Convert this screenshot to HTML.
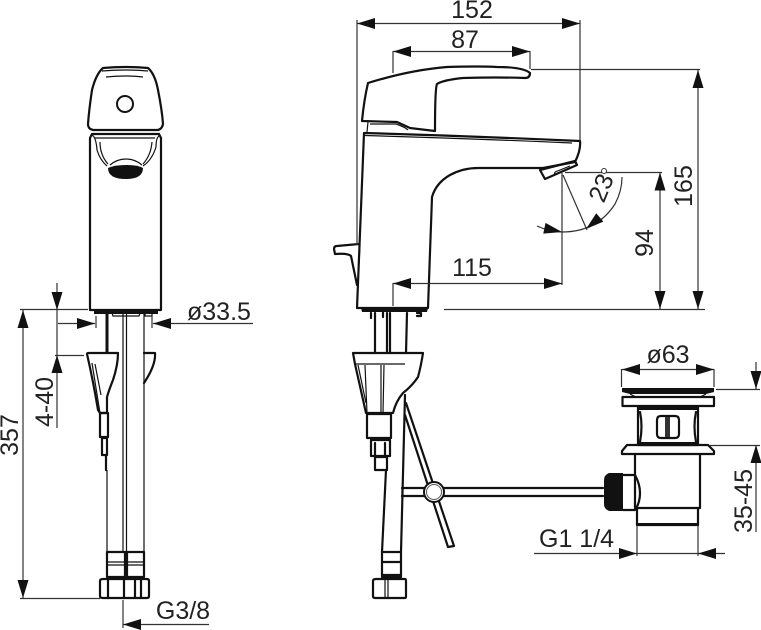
<!DOCTYPE html>
<html><head><meta charset="utf-8"><style>
html,body{margin:0;padding:0;background:#fff}
svg{display:block}
text{font-family:"Liberation Sans",sans-serif;font-size:25px;fill:#222}
.d{stroke:#333;stroke-width:1.2;fill:none}
.o{stroke:#111;stroke-width:2.2;fill:none;stroke-linejoin:round;stroke-linecap:round}
.t{stroke:#111;stroke-width:1.2;fill:none}
.w{fill:#fff}
</style></head><body>
<svg width="761" height="630" viewBox="0 0 761 630" xmlns="http://www.w3.org/2000/svg">
<defs><path id="a" d="M0 0L-18 -5.5V5.5Z" fill="#111"/></defs>

<!-- LEFT VIEW -->
<path class="o" d="M103 68Q125 66 148 68Q155 74 158 90Q162 110 163 124Q162 129 158 130H93Q88 129 88 124Q89 110 92 90Q96 74 103 68Z"/>
<path class="t" d="M102 71Q125 69 148 71M106 77Q125 75 143 77"/>
<circle cx="125" cy="104" r="8" fill="none" stroke="#111" stroke-width="2"/>
<path class="o" d="M90 310V138L92 134H159L161 138V310Z"/>
<path class="t" d="M92 135Q96 137 97 150Q100 160 107 166M95 138H155M160 135Q156 137 156 147Q152 160 143 166M100 142Q100 155 108 164M152 142Q151 155 143 164"/>
<path d="M108 168Q114 165 126 165Q138 165 143 168Q143 179 126 179Q108 179 108 168Z" fill="#111"/>
<path class="t" d="M110 165Q117 159 126 159Q135 159 142 165"/>
<path d="M94 310H158V314H94Z" fill="#111"/>
<path class="t" d="M112 313L113 316H139L140 313M145 313V316H152V313"/>
<path d="M105.500 314H108.500V352H105.500Z" fill="#111"/>
<path class="t" d="M123 314V552M126.500 314V552M144 314V552M107 470V552"/>
<path class="o" d="M87 354Q87 353 89 353H118Q118 365 113 380Q109 390 107 397V413H100L98 410Q93 380 87 354Z"/>
<path class="t" d="M92 363L100 413M95 364L101 395"/>
<path class="o" d="M100 413H108V437H100ZM102 438H107V455H102ZM106 455V470"/>
<path class="o" d="M144 353H155Q156 365 144 383"/>
<path class="o" d="M107 552H144M107 577H144M107 552V577M125 552V577M127 552V577M144 552V577" stroke-width="1.500"/>
<path class="t" d="M107 562H144M107 565H144"/>
<path class="o" d="M103 579H147Q149 579 149 581V596Q149 598 147 598H103Q100 598 100 596V581Q100 579 103 579Z"/>
<path class="o" d="M108 579V598M124 579V598M135 579V598M141 579V598" stroke-width="1.500"/>

<!-- left dims -->
<path class="d" d="M57 283V428M20 309.500H88M55 355.500H84M23 310V598M20 598.500H100M58 323.500H95M96 316V328M152 316V328M153 323.500H253M123 600V628M123 624.500H209"/>
<use href="#a" transform="translate(57,310) rotate(90)"/>
<use href="#a" transform="translate(57,355) rotate(-90)"/>
<use href="#a" transform="translate(23,310) rotate(-90)"/>
<use href="#a" transform="translate(23,598) rotate(90)"/>
<use href="#a" transform="translate(95,323.500)"/>
<use href="#a" transform="translate(153,323.500) rotate(180)"/>
<use href="#a" transform="translate(123,624.500) rotate(180)"/>
<text x="187" y="320">ø33.5</text>
<text x="183" y="619" text-anchor="middle">G3/8</text>
<text transform="translate(53,402) rotate(-90)" text-anchor="middle">4-40</text>
<text transform="translate(18,435) rotate(-90)" text-anchor="middle">357</text>

<!-- RIGHT VIEW -->
<path class="o" d="M368 83Q410 70 447 67Q480 66 497 67Q523 67 530 73Q530 78 525 78Q497 77 463 78Q443 80 437 84Q435 88 435 131M368 83Q364 100 362 121L397 122L410 128L435 131"/>
<path class="t" d="M368 122L367 132M370 124H396Q405 127 408 130"/>
<path class="o" d="M364 133Q470 136 580 141Q581 150 575 162L543 168H478Q463 168 450 175Q436 183 432 197Q430 250 428 308H357L364 133Z"/>
<path class="t" d="M365 135.500Q470 138.500 572 143"/>
<path class="o" d="M540 170L575 161L577 165L545 179Z" stroke-width="1.800"/>
<path class="t" d="M555 172L554 176M555 172L570 166"/>
<path d="M361 308H428L427 312H362Z" fill="#111"/>
<path class="o" d="M359 244L337 246Q334 246 334 249L335 254Q348 253 351 256L357 285" stroke-width="1.800"/>
<path class="t" d="M360 245L357 300"/>
<path class="o" d="M375 313V353M407 313L406 353M387 313V353M390 313V353" stroke-width="1.500"/>
<path class="o" d="M371 313V318M417 313H421V316H417M383 312V317" stroke-width="1.500"/>
<path class="o" d="M353 353H423Q421 366 418 377Q412 386 403 393Q396 401 393 413H366L355 364L353 353Z"/>
<path class="t" d="M356 364H405M358 365L366 403M365 365L367 413M381 365V413M384 365L383 413"/>
<path class="o" d="M367 414H391V438H367ZM371 440H390V456H371ZM375 443V456M385 443V456M375 457H387V470H375Z" stroke-width="1.600"/>
<path class="o" d="M386 470L382 552M405 395L401 552" stroke-width="1.600"/>
<path class="o" d="M382 552H401V577H382ZM382 562H401M382 575H401" stroke-width="1.500"/>
<path class="o" d="M376 579H405Q406 579 406 581V596Q406 598 405 598H375Q373 598 373 596V581Q373 579 376 579Z"/>
<path class="t" d="M385 580V597M388 580V597" />
<path class="o" d="M406 403L454 546L448 547L405 415" stroke-width="1.600" />
<path class="o" d="M402 488H603M402 496H603" stroke-width="2"/>
<path class="t" d="M402 488V496"/>
<circle cx="434" cy="492" r="10" class="w" stroke="#111" stroke-width="2"/>
<circle cx="434" cy="492" r="7.500" fill="#fff" stroke="#555" stroke-width="1"/>

<!-- drain -->
<path d="M622 388H714V392L706 394H630L622 392Z" fill="#111"/>
<path class="t" d="M630 394L636 397M706 394L700 397"/>
<path class="o" d="M622.500 397H714V406H622.500Z"/>
<path class="o" d="M638 407H698V445H638Z" stroke-width="1.500"/>
<path d="M638 407H698V410H638ZM638 442H698V445H638Z" fill="#111"/>
<path class="o" d="M640 412Q643 426 640 442M696 412Q693 426 696 442" stroke-width="1.500"/>
<path class="o" d="M657 420Q657 416 661 416H675Q679 416 679 420V434Q679 438 675 438H661Q657 438 657 434Z" stroke-width="2.500"/>
<path d="M665 417H670V437H665Z" fill="#333"/>
<path class="o" d="M627 445H708L714 451V454H622V451Z"/>
<path class="o" d="M635 455V508H700V455M637 508V525H698V508" stroke-width="1.800"/>
<path d="M637 523H698V526H637Z" fill="#111"/>
<path class="o" d="M623 475H635Q640 484 640 493Q640 503 635 510H623" stroke-width="1.800"/>
<path d="M609 473H623V511H609Q604 509 604 504V480Q604 475 609 473Z" fill="#111"/>

<!-- right dims -->
<path class="d" d="M357 20V245M580 20V140M357 23.500H580M393 51.500H530M393 51V73M530 51V69M531 69.500H700M393 283.500H562M393 283V306M562 173V285M444 309.500H705M660 172V309M565 172.500H662M698 70V309"/>
<path class="d" d="M563 175L587 230M537 226Q550 232 562 232Q597 232 615 204Q622 191 622 177"/>
<circle cx="604" cy="171" r="2.500" fill="#fff" stroke="#333" stroke-width="1"/>
<use href="#a" transform="translate(357,23.500) rotate(180)"/>
<use href="#a" transform="translate(580,23.500)"/>
<use href="#a" transform="translate(393,51.500) rotate(180)"/>
<use href="#a" transform="translate(530,51.500)"/>
<use href="#a" transform="translate(393,283.500) rotate(180)"/>
<use href="#a" transform="translate(562,283.500)"/>
<use href="#a" transform="translate(660,172.500) rotate(-90)"/>
<use href="#a" transform="translate(660,309) rotate(90)"/>
<use href="#a" transform="translate(698,70) rotate(-90)"/>
<use href="#a" transform="translate(698,309) rotate(90)"/>
<use href="#a" transform="translate(562,232) rotate(12)"/>
<use href="#a" transform="translate(586,229) rotate(140)"/>
<text x="472" y="18" text-anchor="middle">152</text>
<text x="465" y="48" text-anchor="middle">87</text>
<text x="472" y="276" text-anchor="middle">115</text>
<text transform="translate(692,186) rotate(-90)" text-anchor="middle">165</text>
<text transform="translate(653,243) rotate(-90)" text-anchor="middle">94</text>
<text transform="translate(609,191) rotate(-68)" text-anchor="middle">23</text>

<path class="d" d="M621.500 369V387M714 369V387M622 369.500H714M716 389.500H760M710 445.500H760M756 362V389M756 445V532M534 553.500H725M637 526V556M698 526V556"/>
<use href="#a" transform="translate(622,369.500) rotate(180)"/>
<use href="#a" transform="translate(714,369.500)"/>
<use href="#a" transform="translate(756,389) rotate(90)"/>
<use href="#a" transform="translate(756,445) rotate(-90)"/>
<use href="#a" transform="translate(637,553.500)"/>
<use href="#a" transform="translate(698,553.500) rotate(180)"/>
<text x="668" y="363" text-anchor="middle">ø63</text>
<text x="539" y="547">G1 1/4</text>
<text transform="translate(752,501) rotate(-90)" text-anchor="middle">35-45</text>
</svg>
</body></html>
